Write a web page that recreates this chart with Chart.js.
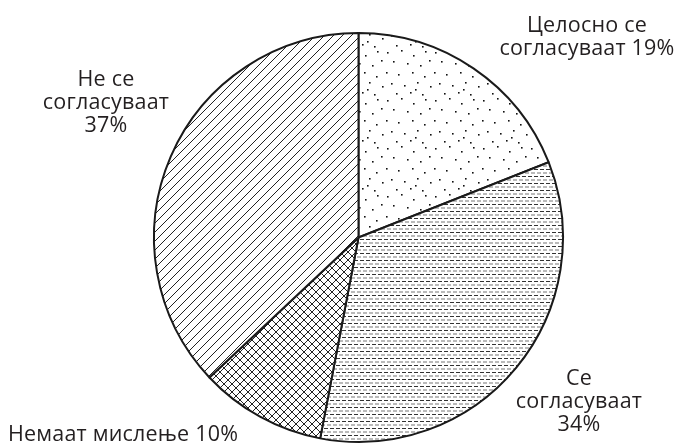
<!DOCTYPE html>
<html>
<head>
<meta charset="utf-8">
<script src="https://cdn.jsdelivr.net/npm/chart.js@4/dist/chart.umd.min.js"></script>
<style>
  html, body { margin: 0; padding: 0; background: #fff; }
  #wrap { width: 677px; height: 446px; position: relative; }
</style>
</head>
<body>
<div id="wrap"><canvas id="pieChart"></canvas></div>
<script>
const categories = ['Целосно се согласуваат', 'Се согласуваат', 'Немаат мислење', 'Не се согласуваат'];
const shares = [19, 34, 10, 37];
const labelLines = [
  ['Целосно се', 'согласуваат 19%'],
  ['Се', 'согласуваат', '34%'],
  ['Немаат мислење 10%'],
  ['Не се', 'согласуваат', '37%']
];

function makeTile(w, h, draw) {
  const c = document.createElement('canvas');
  c.width = w;
  c.height = h;
  const g = c.getContext('2d');
  g.fillStyle = '#fff';
  g.fillRect(0, 0, w, h);
  draw(g);
  return c.getContext('2d').createPattern(c, 'repeat');
}

// stipple dots, scattered
const dots = makeTile(48, 48, g => {
  g.fillStyle = '#111';
  [[3, 4], [17, 2], [29, 7], [41, 3], [9, 13], [23, 15], [36, 17], [45, 12],
   [2, 24], [14, 26], [28, 24], [40, 28], [7, 35], [20, 37], [33, 34], [46, 38],
   [12, 45], [26, 44], [38, 46], [31, 41]].forEach(p => {
    g.fillRect(p[0], p[1], 1.6, 1.6);
  });
});

// short horizontal dashes
const dashes = makeTile(6, 7, g => {
  g.fillStyle = '#333';
  g.fillRect(0, 1, 4, 1);
  g.fillStyle = '#777';
  g.fillRect(3, 4.5, 4, 1);
  g.fillRect(0, 4.5, 1, 1);
});

// cross hatch
const cross = makeTile(8, 8, g => {
  g.strokeStyle = '#222';
  g.lineWidth = 1;
  g.beginPath();
  g.moveTo(0, 0); g.lineTo(8, 8);
  g.moveTo(8, 0); g.lineTo(0, 8);
  g.stroke();
});

// diagonal lines
const diag = makeTile(9, 9, g => {
  g.strokeStyle = '#222';
  g.lineWidth = 1;
  g.beginPath();
  g.moveTo(-1, 10); g.lineTo(10, -1);
  g.moveTo(-1, 1); g.lineTo(1, -1);
  g.moveTo(8, 10); g.lineTo(10, 8);
  g.stroke();
});

const labelPos = [
  { x: 587, y: 32, align: 'center' },
  { x: 579, y: 385, align: 'center' },
  { x: 8, y: 441, align: 'left' },
  { x: 106, y: 86, align: 'center' }
];

const outsideLabels = {
  id: 'outsideLabels',
  afterDraw(chart) {
    const c = chart.ctx;
    c.save();
    c.fillStyle = '#231f20';
    c.font = '21.5px "Open Sans"';
    c.letterSpacing = '0.2px';
    c.textBaseline = 'alphabetic';
    labelLines.forEach((lines, i) => {
      const p = labelPos[i];
      c.textAlign = p.align;
      lines.forEach((t, k) => c.fillText(t, p.x, p.y + k * 23));
    });
    c.restore();
  }
};

new Chart(document.getElementById('pieChart').getContext('2d'), {
  type: 'pie',
  data: {
    labels: categories,
    datasets: [{
      data: shares,
      backgroundColor: [dots, dashes, cross, diag],
      borderColor: '#1a1a1a',
      borderWidth: 2
    }]
  },
  options: {
    responsive: true,
    maintainAspectRatio: false,
    animation: false,
    layout: {
      padding: { top: 32, bottom: 3, left: 153, right: 113 }
    },
    plugins: {
      legend: { display: false },
      tooltip: { enabled: false }
    }
  },
  plugins: [outsideLabels]
});
</script>
</body>
</html>
